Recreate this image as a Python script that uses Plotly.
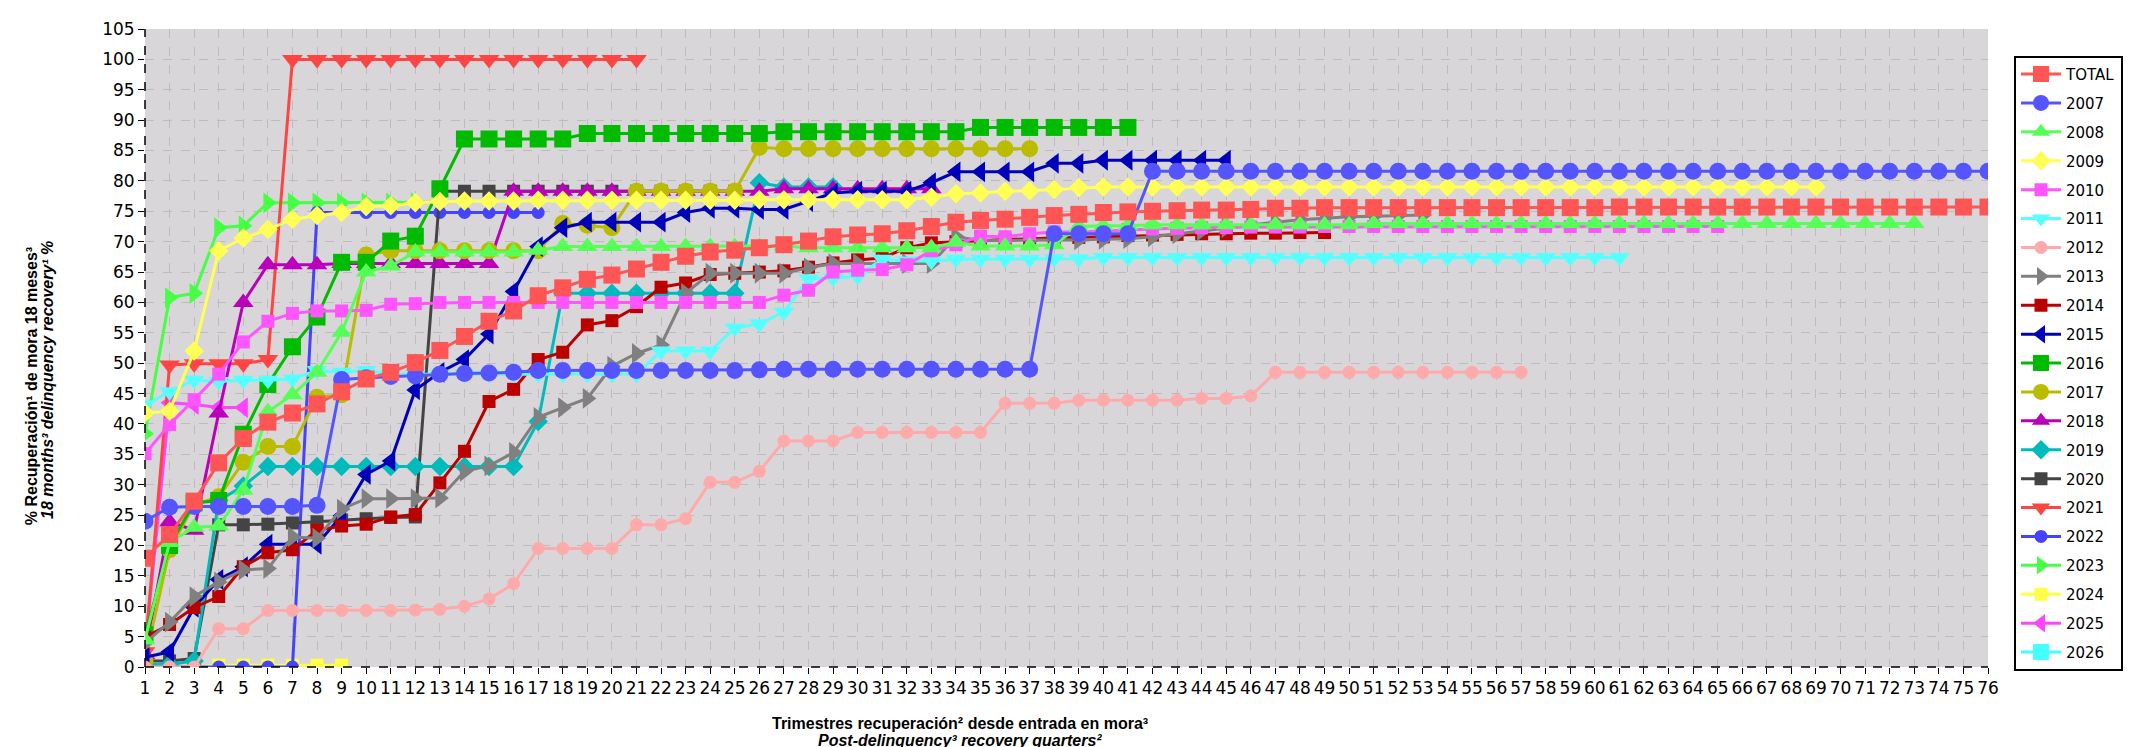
import plotly.graph_objects as go

# ---------------- data ----------------
QUARTERS = list(range(1, 77))

TOTAL = [17.9, 21.8, 27.3, 33.6, 37.6, 40.3, 41.8, 43.3, 45.3, 47.4, 48.5, 50.1,
         52.1, 54.4, 56.9, 58.6, 61.1, 62.4, 63.8, 64.5, 65.5, 66.6, 67.6, 68.3,
         68.6, 69.0, 69.5, 70.1, 70.8, 71.1, 71.3, 71.8, 72.5, 73.2, 73.5, 73.7,
         74.0, 74.3, 74.5, 74.8, 74.9, 75.0, 75.1, 75.2, 75.2, 75.3, 75.5, 75.5,
         75.6, 75.6, 75.6, 75.6, 75.6, 75.6, 75.6, 75.6, 75.6, 75.6, 75.6, 75.6,
         75.7, 75.7, 75.7, 75.7, 75.7, 75.7, 75.7, 75.7, 75.7, 75.7, 75.7, 75.7,
         75.7, 75.7, 75.7, 75.7]
Y2007 = [24.0, 26.3, 26.4, 26.4, 26.4, 26.4, 26.4, 26.6, 47.3, 47.6, 47.8, 47.9,
         48.2, 48.3, 48.4, 48.5, 48.8, 48.8, 48.8, 48.8, 48.8, 48.8, 48.8, 48.8,
         48.8, 48.9, 49.0, 49.0, 49.0, 49.0, 49.0, 49.0, 49.0, 49.0, 49.0, 49.0,
         49.0, 71.3, 71.3, 71.3, 71.3, 81.6, 81.6, 81.6, 81.6, 81.6, 81.6, 81.6,
         81.6, 81.6, 81.6, 81.6, 81.6, 81.6, 81.6, 81.6, 81.6, 81.6, 81.6, 81.6,
         81.6, 81.6, 81.6, 81.6, 81.6, 81.6, 81.6, 81.6, 81.6, 81.6, 81.6, 81.6,
         81.6, 81.6, 81.6, 81.6]
Y2008 = [4.5, 20.5, 23.0, 23.2, 29.1, 42.0, 44.8, 48.5, 55.1, 65.0, 66.0, 68.3,
         68.3, 68.3, 68.3, 68.3, 68.6, 69.2, 69.2, 69.2, 69.2, 69.2, 69.2, 69.2,
         69.2, 69.2, 69.3, 69.0, 69.0, 69.0, 69.0, 69.0, 69.0, 69.9, 69.3, 69.3,
         69.3, 69.5, 72.5, 72.6, 72.6, 72.8, 72.8, 72.8, 72.8, 72.8, 72.8, 72.8,
         72.8, 72.8, 73.0, 73.0, 73.0, 73.0, 73.0, 73.0, 73.0, 73.0, 73.0, 73.0,
         73.0, 73.0, 73.0, 73.0, 73.0, 73.0, 73.0, 73.0, 73.0, 73.0, 73.0, 73.0,
         73.0]
Y2009 = [41.8, 42.1, 52.0, 68.5, 70.6, 72.0, 73.7, 74.3, 74.8, 75.8, 75.9, 76.4,
         76.6, 76.7, 76.7, 76.7, 76.8, 76.8, 76.8, 76.8, 76.8, 76.8, 76.8, 76.8,
         76.8, 76.9, 76.9, 76.9, 76.9, 76.9, 76.9, 76.9, 77.3, 77.9, 78.0, 78.3,
         78.4, 78.6, 78.9, 79.0, 79.0, 79.0, 79.0, 79.0, 79.0, 79.0, 79.0, 79.0,
         79.0, 79.0, 79.0, 79.0, 79.0, 79.0, 79.0, 79.0, 79.0, 79.0, 79.0, 79.0,
         79.0, 79.0, 79.0, 79.0, 79.0, 79.0, 79.0, 79.0, 79.0]
Y2010 = [35.1, 39.9, 44.0, 48.2, 53.5, 56.9, 58.2, 58.6, 58.6, 58.7, 59.7, 59.8,
         60.0, 60.0, 60.0, 60.0, 60.0, 60.0, 60.0, 60.0, 60.0, 60.0, 60.0, 60.0,
         60.0, 60.0, 61.2, 62.0, 65.0, 65.3, 65.4, 66.2, 68.5, 69.5, 70.9, 70.8,
         71.3, 71.6, 71.6, 71.8, 72.0, 72.1, 72.2, 72.3, 72.3, 72.4, 72.4, 72.4,
         72.5, 72.5, 72.5, 72.5, 72.5, 72.5, 72.5, 72.5, 72.5, 72.5, 72.5, 72.5,
         72.5, 72.5, 72.5, 72.5, 72.5]
Y2011 = [43.1, 45.3, 47.2, 47.0, 47.2, 47.2, 47.4, 48.8, 48.5, 48.8, 48.2, 48.2,
         48.2, 48.2, 48.2, 48.2, 48.2, 48.2, 48.2, 48.2, 48.2, 52.0, 52.0, 52.0,
         55.8, 56.5, 58.4, 63.9, 64.0, 64.3, 67.1, 66.8, 66.8, 67.1, 67.1, 67.1,
         67.1, 67.2, 67.2, 67.4, 67.4, 67.4, 67.4, 67.4, 67.4, 67.4, 67.4, 67.4,
         67.4, 67.4, 67.4, 67.4, 67.4, 67.4, 67.4, 67.4, 67.4, 67.4, 67.4, 67.4,
         67.4]
Y2012 = [0.0, 0.0, 0.0, 6.3, 6.3, 9.3, 9.3, 9.3, 9.3, 9.3, 9.3, 9.4,
         9.5, 10.0, 11.2, 13.7, 19.5, 19.5, 19.5, 19.5, 23.4, 23.4, 24.4, 30.4,
         30.4, 32.2, 37.2, 37.2, 37.2, 38.6, 38.6, 38.6, 38.6, 38.6, 38.6, 43.4,
         43.4, 43.4, 43.9, 43.9, 43.9, 43.9, 43.9, 44.2, 44.2, 44.6, 48.5, 48.5,
         48.5, 48.5, 48.5, 48.5, 48.5, 48.5, 48.5, 48.5, 48.5]
Y2013 = [4.0, 7.4, 11.6, 14.0, 16.0, 16.2, 21.4, 21.2, 26.0, 27.7, 27.7, 27.7,
         27.8, 32.2, 33.1, 35.3, 41.1, 42.7, 44.2, 49.5, 51.6, 53.0, 61.5, 64.8,
         64.8, 64.8, 64.8, 65.7, 66.4, 66.4, 66.4, 66.4, 66.4, 70.8, 70.2, 70.2,
         70.2, 70.2, 70.3, 70.4, 70.5, 70.8, 71.3, 71.8, 72.3, 72.8, 73.2, 73.6,
         73.9, 74.1, 74.2, 74.3, 74.4]
Y2014 = [4.9, 7.0, 9.8, 11.6, 16.5, 18.8, 19.3, 22.5, 23.2, 23.5, 24.7, 25.1,
         30.3, 35.5, 43.7, 45.7, 50.6, 51.8, 56.3, 57.0, 59.3, 62.5, 63.2, 64.6,
         64.8, 65.0, 65.2, 65.8, 66.5, 67.0, 67.3, 69.0, 69.8, 70.0, 70.2, 70.3,
         70.5, 70.6, 70.7, 70.8, 71.0, 71.1, 71.2, 71.3, 71.3, 71.4, 71.4, 71.5,
         71.5]
Y2015 = [1.6, 2.5, 9.8, 14.4, 16.5, 20.2, 20.2, 20.2, 24.9, 31.7, 33.9, 45.6,
         48.5, 50.6, 54.8, 61.8, 69.2, 72.3, 73.2, 73.2, 73.2, 73.2, 74.8, 75.5,
         75.5, 75.3, 75.3, 76.6, 78.0, 78.3, 78.3, 78.3, 79.7, 81.5, 81.5, 81.5,
         81.5, 82.9, 82.9, 83.4, 83.4, 83.4, 83.4, 83.4, 83.4]
Y2016 = [5.3, 20.0, 27.0, 27.4, 38.3, 46.5, 52.7, 57.6, 66.6, 66.6, 70.1, 70.9,
         78.7, 86.9, 86.9, 86.9, 86.9, 86.9, 87.8, 87.8, 87.8, 87.8, 87.8, 87.8,
         87.8, 87.8, 88.1, 88.1, 88.1, 88.1, 88.1, 88.1, 88.1, 88.1, 88.8, 88.8,
         88.8, 88.8, 88.8, 88.8, 88.8]
Y2017 = [1.0, 19.3, 26.7, 28.0, 33.7, 36.3, 36.3, 44.4, 44.8, 67.8, 68.5, 68.5,
         68.5, 68.5, 68.5, 68.5, 68.5, 73.0, 72.7, 72.3, 78.3, 78.3, 78.3, 78.3,
         78.3, 85.5, 85.3, 85.3, 85.3, 85.3, 85.3, 85.3, 85.3, 85.3, 85.3, 85.3,
         85.3]
Y2018 = [2.0, 23.9, 22.5, 41.8, 60.0, 66.2, 66.2, 66.2, 66.4, 66.4, 66.4, 66.4,
         66.4, 66.4, 66.4, 78.3, 78.3, 78.3, 78.3, 78.3, 78.3, 78.3, 78.3, 78.3,
         78.3, 78.3, 78.7, 78.7, 78.7, 78.7, 78.7, 78.7, 78.7]
Y2019 = [0.4, 0.4, 1.0, 27.4, 29.8, 33.0, 33.0, 33.0, 33.0, 33.0, 33.0, 33.0,
         33.0, 33.0, 33.0, 33.0, 40.4, 61.5, 61.5, 61.5, 61.5, 61.5, 61.5, 61.5,
         61.5, 79.7, 79.0, 79.0, 79.0]
Y2020 = [1.0, 1.0, 1.4, 23.4, 23.4, 23.5, 23.7, 23.9, 24.2, 24.4, 24.6, 24.7,
         78.3, 78.3, 78.3, 78.3, 78.3, 78.3, 78.3, 78.3, 78.3, 78.3, 78.3, 78.3,
         78.3]
Y2021 = [2.5, 49.7, 49.9, 49.9, 49.9, 50.6, 100.0, 100.0, 100.0, 100.0, 100.0,
         100.0, 100.0, 100.0, 100.0, 100.0, 100.0, 100.0, 100.0, 100.0, 100.0]
Y2022 = [0.0, 0.0, 0.0, 0.0, 0.0, 0.0, 0.0, 74.8, 74.8, 74.8, 74.8, 74.8,
         74.8, 74.8, 74.8, 74.8, 74.8]
Y2023 = [38.4, 60.8, 61.5, 72.3, 72.6, 76.4, 76.4, 76.4, 76.4, 76.4, 76.4, 76.4,
         76.5]
Y2024 = [0.0, 0.0, 0.0, 0.3, 0.3, 0.3, 0.3, 0.3, 0.3]
Y2025 = [3.0, 43.5, 43.2, 42.7, 42.7]
Y2026 = [0.0]

SERIES = [
    ("TOTAL", TOTAL), ("2007", Y2007), ("2008", Y2008), ("2009", Y2009),
    ("2010", Y2010), ("2011", Y2011), ("2012", Y2012), ("2013", Y2013),
    ("2014", Y2014), ("2015", Y2015), ("2016", Y2016), ("2017", Y2017),
    ("2018", Y2018), ("2019", Y2019), ("2020", Y2020), ("2021", Y2021),
    ("2022", Y2022), ("2023", Y2023), ("2024", Y2024), ("2025", Y2025),
    ("2026", Y2026),
]

# ---------------- styles ----------------
STYLE = {
    "TOTAL": ("#FF5555", "square", 17),
    "2007": ("#5555FF", "circle", 17),
    "2008": ("#55FF55", "triangle-up", 18),
    "2009": ("#FFFF55", "diamond", 15),
    "2010": ("#FF55FF", "square", 13),
    "2011": ("#55FFFF", "triangle-down", 18),
    "2012": ("#FFAAAA", "circle", 13),
    "2013": ("#808080", "triangle-right", 18),
    "2014": ("#BB0000", "square", 13),
    "2015": ("#0000BB", "triangle-left", 18),
    "2016": ("#00BB00", "square", 17),
    "2017": ("#BBBB00", "circle", 17),
    "2018": ("#BB00BB", "triangle-up", 18),
    "2019": ("#00BBBB", "diamond", 15),
    "2020": ("#444444", "square", 13),
    "2021": ("#FF4444", "triangle-down", 18),
    "2022": ("#4444FF", "circle", 13),
    "2023": ("#44FF44", "triangle-right", 18),
    "2024": ("#FFFF44", "square", 13),
    "2025": ("#FF44FF", "triangle-left", 18),
    "2026": ("#44FFFF", "square", 17),
}

fig = go.Figure()
# earlier series are drawn on top -> add in reverse order
for rank in range(len(SERIES) - 1, -1, -1):
    name, vals = SERIES[rank]
    color, symbol, size = STYLE[name]
    fig.add_trace(go.Scatter(
        x=QUARTERS[:len(vals)], y=vals, name=name, mode="lines+markers",
        line=dict(color=color, width=3),
        marker=dict(symbol=symbol, size=size, color=color, line=dict(width=0)),
        legendgroup=name, legendrank=rank + 1,
    ))

TICKFONT = dict(family="DejaVu Sans", size=17, color="black")
axis_common = dict(
    showgrid=True, gridcolor="#BDBBBD", gridwidth=1, griddash="dash",
    zeroline=False, showline=False, ticks="outside", ticklen=6,
    tickcolor="black", tickwidth=1, tickfont=TICKFONT,
)
TITLEFONT = dict(family="Liberation Sans", size=16, color="black")

fig.update_layout(
    width=2138, height=747,
    margin=dict(l=137, r=158, t=11, b=88),
    paper_bgcolor="white", plot_bgcolor="#D8D6D8",
    showlegend=True,
    legend=dict(
        x=1.0141, y=0.958, xanchor="left", yanchor="top",
        bgcolor="white", bordercolor="black", borderwidth=2,
        font=dict(family="DejaVu Sans", size=15, color="black"),
        itemwidth=40, tracegroupgap=6.4, traceorder="grouped",
    ),
    xaxis=dict(range=[1, 76], tickmode="array", tickvals=QUARTERS, **axis_common),
    yaxis=dict(range=[0, 105], tick0=0, dtick=5, **axis_common),
    shapes=[
        dict(type="line", xref="paper", yref="paper", x0=0, x1=0, y0=0, y1=1,
             line=dict(color="black", width=1.5, dash="dash"), layer="above"),
        dict(type="line", xref="paper", yref="paper", x0=0, x1=1, y0=0, y1=0,
             line=dict(color="black", width=1.5, dash="dash"), layer="above"),
    ],
    annotations=[
        dict(text="<b>Trimestres recuperación² desde entrada en mora³</b>",
             xref="paper", yref="paper", x=0.442, y=-0.0880,
             xanchor="center", yanchor="middle", showarrow=False, font=TITLEFONT),
        dict(text="<b><i>Post-delinquency³ recovery quarters²</i></b>",
             xref="paper", yref="paper", x=0.442, y=-0.1145,
             xanchor="center", yanchor="middle", showarrow=False, font=TITLEFONT),
        dict(text="<b>% Recuperación¹ de mora 18 meses³</b>",
             xref="paper", yref="paper", x=-0.0619, y=0.44, textangle=-90,
             xanchor="center", yanchor="middle", showarrow=False, font=TITLEFONT),
        dict(text="<b><i>18 months³ delinquency recovery¹ %</i></b>",
             xref="paper", yref="paper", x=-0.0526, y=0.45, textangle=-90,
             xanchor="center", yanchor="middle", showarrow=False, font=TITLEFONT),
    ],
)

fig.write_html("out.html")
